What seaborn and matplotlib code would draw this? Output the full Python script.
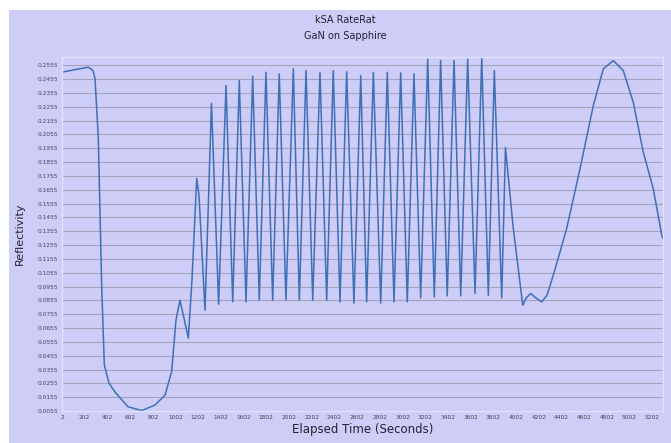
import matplotlib
matplotlib.use("Agg")
import matplotlib.pyplot as plt
import matplotlib.patches as mpatches
import seaborn as sns
import pandas as pd
import numpy as np

# Elapsed time (s) and reflectivity
time_s = [2, 117, 234, 275, 293, 322, 352, 375, 416, 469, 583, 704, 821, 910, 968, 1006,
          1041, 1077, 1115, 1147, 1189, 1209, 1262,
          1319, 1382, 1447, 1506, 1564, 1623, 1682, 1740, 1799, 1858, 1916, 1975,
          2040, 2093, 2152, 2211, 2275, 2334, 2392, 2451, 2510, 2574, 2634, 2686,
          2745, 2810, 2868, 2927, 2986, 3044, 3103, 3162, 3224, 3282, 3338, 3396,
          3456, 3515, 3576, 3641, 3700, 3758, 3811, 3876, 3909,
          3975, 4061, 4090, 4131, 4169, 4228, 4275, 4330, 4389, 4448, 4566, 4683,
          4771, 4859, 4947, 5035, 5123, 5211, 5291]
reflectivity = [0.2505, 0.2524, 0.2541, 0.2517, 0.2459, 0.2026, 0.0943, 0.0387, 0.0257, 0.0192,
                0.0086, 0.0058, 0.0098, 0.0170, 0.0339, 0.0712,
                0.0856, 0.0727, 0.0582, 0.1001, 0.1737, 0.1615, 0.0784,
                0.2279, 0.0828, 0.2409, 0.0844, 0.2445, 0.0844, 0.2476, 0.0856, 0.2505, 0.0856,
                0.2493, 0.0856, 0.2529, 0.0856, 0.2517, 0.0856, 0.2505, 0.0856, 0.2517, 0.0844,
                0.2508, 0.0835, 0.2480, 0.0844, 0.2505, 0.0835, 0.2505, 0.0844, 0.2500, 0.0844,
                0.2493, 0.0873, 0.2600, 0.0880, 0.2589, 0.0887, 0.2589, 0.0887, 0.2600, 0.0905,
                0.2610, 0.0892, 0.2517, 0.0873, 0.1961,
                0.1398, 0.0820, 0.0871, 0.0905, 0.0878, 0.0844, 0.0892, 0.1037, 0.1203, 0.1374,
                0.1807, 0.2264, 0.2529, 0.2589, 0.2517, 0.2288, 0.1927, 0.1663, 0.1306]

x_ticks = list(range(2, 5203, 200))
y_ticks = [round(0.0055 + 0.01 * i, 4) for i in range(26)]

df = pd.DataFrame({"t": time_s, "r": reflectivity})

sns.set_theme(style="white")
bg = "#CDCDF7"
fig = plt.figure(figsize=(6.71, 4.43), dpi=100)
fig.patch.set_facecolor("white")
fig.patches.append(mpatches.Rectangle((9 / 671, 0), 1, 1 - 10 / 443,
                                      transform=fig.transFigure, facecolor=bg,
                                      edgecolor="none", zorder=-10))
ax = fig.add_axes([62 / 671, 32 / 443, 601 / 671, (411 - 57) / 443])
ax.set_facecolor(bg)

sns.lineplot(data=df, x="t", y="r", ax=ax, sort=False, estimator=None,
             color="#3F6FB6", linewidth=1.1)

ax.set_xlim(2, 5297)
ax.set_ylim(0.0055, 0.2615)
ax.set_xticks(x_ticks)
ax.set_xticklabels([str(v) for v in x_ticks], fontsize=4.2, color="#444455")
ax.set_yticks(y_ticks)
ax.set_yticklabels([f"{v:.4f}" for v in y_ticks], fontsize=4.2, color="#444455")
ax.tick_params(axis="both", length=0, pad=3)
ax.yaxis.grid(True, color="#A4A4BC", linewidth=0.8)
ax.xaxis.grid(False)
for s in ax.spines.values():
    s.set_color("#E2E2FF")
    s.set_linewidth(1.0)

ax.set_xlabel("Elapsed Time (Seconds)", fontsize=8.5, color="#222233", labelpad=2)
ax.set_ylabel("Reflectivity", fontsize=8, color="#222233", labelpad=9)
fig.text(345 / 671, 1 - 20 / 443, "kSA RateRat", ha="center", va="center",
         fontsize=7, color="#222233")
fig.text(345 / 671, 1 - 36 / 443, "GaN on Sapphire", ha="center", va="center",
         fontsize=7, color="#222233")

fig.savefig("out.png", dpi=100, facecolor=fig.get_facecolor())
